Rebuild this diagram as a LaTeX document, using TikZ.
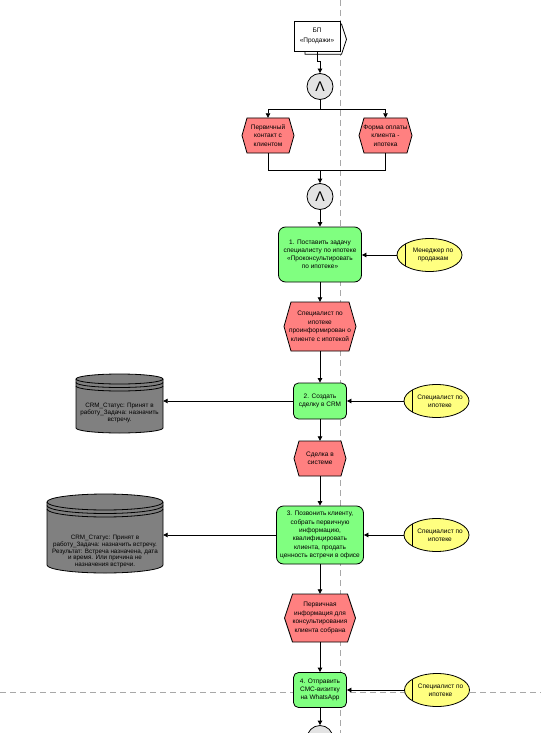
\documentclass[tikz,border=0pt]{standalone}
\usepackage{fontspec}
\setmainfont{Liberation Sans}
\usetikzlibrary{arrows.meta,shapes.geometric}
\definecolor{fgreen}{HTML}{80FF80}
\definecolor{ered}{HTML}{FF8080}
\definecolor{ryel}{HTML}{FFFF80}
\definecolor{andg}{HTML}{E3E3E3}
\definecolor{dbg}{HTML}{808080}
\definecolor{dashg}{HTML}{A8A8A8}
\newcommand\fs{\fontsize{6.5}{8}\selectfont}
\newcommand\fse{\fontsize{6.5}{8.5}\selectfont}
\newcommand\fsd{\fontsize{6.3}{6.9}\selectfont}
% event: name, cx, cy, w, h, inset, text
\newcommand\evt[7]{%
  \draw[evshape] ({#2-#4/2},#3) -- ({#2-#4/2+#6},{#3-#5/2}) -- ({#2+#4/2-#6},{#3-#5/2})
    -- ({#2+#4/2},#3) -- ({#2+#4/2-#6},{#3+#5/2}) -- ({#2-#4/2+#6},{#3+#5/2}) -- cycle;
  \node[evtxt, minimum width=#4pt, minimum height=#5pt] (#1) at (#2,#3) {#7};
}
% database: name, cx, top, w, h, ry, text y, text
\newcommand\db[8]{%
  \draw[dbshape] ({#2-#4/2},{#3+#6}) -- ({#2-#4/2},{#3+#5-#6})
    arc[start angle=180,end angle=360,x radius={#4/2*1pt},y radius={#6*1pt}]
    -- ({#2+#4/2},{#3+#6})
    arc[start angle=0,end angle=180,x radius={#4/2*1pt},y radius={#6*1pt}] -- cycle;
  \draw[dbline] ({#2-#4/2},{#3+#6}) arc[start angle=180,end angle=360,x radius={#4/2*1pt},y radius={#6*1pt}];
  \draw[dbline] ({#2-#4/2},{#3+#6+3.5}) arc[start angle=180,end angle=360,x radius={#4/2*1pt},y radius={#6*1pt}];
  \draw[dbline] ({#2-#4/2},{#3+#6+7}) arc[start angle=180,end angle=360,x radius={#4/2*1pt},y radius={#6*1pt}];
  \node[minimum width=#4pt, minimum height=#5pt, inner sep=0pt] (#1) at (#2,{#3+#5/2}) {};
  \node[dbtxt] (#1t) at (#2,#7) {#8};
}
% role: name, cx, cy, text
\newcommand\role[4]{%
  \node[roleshape] (#1) at (#2,#3) {};
  \begin{scope}
    \clip (#1.center) ellipse [x radius=32.5pt, y radius=16.5pt];
    \draw[line width=0.8pt] ({#2-24.5},{#3-20}) -- ({#2-24.5},{#3+20});
  \end{scope}
  \node[roletxt] (#1t) at ({#2+3.5},#3) {#4};
}
\begin{document}
\begin{tikzpicture}[x=1pt,y=-1pt,
  base/.style={font=\fs, align=center, inner sep=0pt, text=black},
  func/.style={base, draw, fill=fgreen, line width=0.8pt},
  evshape/.style={draw, fill=ered, line width=0.8pt},
  evtxt/.style={base, font=\fse},
  dbshape/.style={draw, fill=dbg, line width=0.8pt},
  dbline/.style={draw, line width=0.8pt},
  dbtxt/.style={base, font=\fsd},
  roleshape/.style={ellipse, draw, fill=ryel, line width=0.8pt, minimum width=65pt, minimum height=33pt, inner sep=0pt},
  roletxt/.style={base},
  andnode/.style={circle, draw, fill=andg, line width=0.8pt, minimum size=26pt, inner sep=0pt, font=\fontsize{14}{14}\selectfont},
  conn/.style={line width=0.8pt, -{Triangle[length=4.5pt,width=4.5pt]}},
  plain/.style={line width=0.8pt},
  dashline/.style={draw=dashg, line width=0.8pt, dash pattern=on 6pt off 4pt}
]
\useasboundingbox (0,0) rectangle (541,733);
\clip (0,0) rectangle (541,733);
\fill[white] (0,0) rectangle (541,733);
% lane separators
\draw[dashline] (340,0) -- (340,733);
\draw[dashline] (0,692) -- (541,692);

% process interface
\draw[plain, fill=white] (305,51) -- (305,54.3) -- (341.5,54.3) -- (346.5,39.3) -- (341.5,24) -- (340,24);
\node[base, draw, fill=white, line width=0.8pt, minimum width=46pt, minimum height=30pt,
  font=\fontsize{6.5}{10.5}\selectfont] (bp) at (317,36) {БП\\«Продажи»};

% AND connectors
\node[andnode] (a1) at (320,86.5) {Λ};
\node[andnode] (a2) at (320,196.5) {Λ};
\node[andnode] (a3) at (320,738.5) {};

% events
\evt{e1}{268}{135.5}{52}{35}{5}{Первичный\\контакт с\\клиентом}
\evt{e2}{385.5}{135.5}{53}{35}{5}{Форма оплаты\\клиента -\\ипотека}
\evt{e3}{320}{326.5}{72}{49}{7}{Специалист по\\ипотеке\\проинформирован о\\клиенте с ипотекой}
\evt{e4}{320}{458.5}{52}{35}{5}{Сделка в\\системе}
\evt{e5}{320}{618}{71}{48}{8}{Первичная\\информация для\\консультирования\\клиента собрана}

% functions
\node[func, rounded corners=7pt, minimum width=83pt, minimum height=55pt] (f1) at (320,254.5)
  {1. Поставить задачу\\специалисту по ипотеке\\«Проконсультировать\\по ипотеке»};
\node[func, rounded corners=5pt, minimum width=53pt, minimum height=36pt] (f2) at (320,401)
  {2. Создать\\сделку в CRM};
\node[func, rounded corners=7pt, minimum width=87pt, minimum height=58pt, font=\fontsize{6.5}{8.4}\selectfont] (f3) at (320,535)
  {3. Позвонить клиенту,\\собрать первичную\\информацию,\\квалифицировать\\клиента, продать\\ценность встречи в офисе};
\node[func, rounded corners=5pt, minimum width=53pt, minimum height=35pt] (f4) at (320,690)
  {4. Отправить\\СМС-визитку\\на WhatsApp};

% roles
\role{r1}{429.5}{255}{Менеджер по\\продажам}
\role{r2}{436.5}{401}{Специалист по\\ипотеке}
\role{r3}{436.5}{535}{Специалист по\\ипотеке}
\role{r4}{437}{690}{Специалист по\\ипотеке}

% databases
\db{d1}{119.5}{374}{87}{59}{5}{413}{CRM\_Статус: Принят в\\работу\_Задача: назначить\\встречу.}
\db{d2}{105}{494}{116}{79}{8}{551.5}{CRM\_Статус: Принят в\\работу\_Задача: назначить встречу.\\Результат: Встреча назначена, дата\\и время. Или причина не\\назначения встречи.}

% connectors
\draw[conn] (bp.south) -- ++(0,10) -| (a1.north);
\coordinate (j1) at (320,109);
\draw[plain] (a1.south) -- (j1);
\draw[conn] (j1) -| (e1.north);
\draw[conn] (j1) -| (e2.north);
\coordinate (j2) at (320,170);
\draw[plain] (e1.south) |- (j2);
\draw[plain] (e2.south) |- (j2);
\draw[conn] (j2) -- (a2.north);
\draw[conn] (a2.south) -- (f1.north);
\draw[conn] (r1.west) -- (r1.west -| f1.east);
\draw[conn] (f1.south) -- (e3.north);
\draw[conn] (e3.south) -- (f2.north);
\draw[conn] (r2.west) -- (r2.west -| f2.east);
\draw[conn] (f2.west) -- (f2.west -| d1.east);
\draw[conn] (f2.south) -- (e4.north);
\draw[conn] (e4.south) -- (f3.north);
\draw[conn] (r3.west) -- (r3.west -| f3.east);
\draw[conn] (f3.west) -- (f3.west -| d2.east);
\draw[conn] (f3.south) -- (e5.north);
\draw[conn] (e5.south) -- (f4.north);
\draw[conn] (r4.west) -- (r4.west -| f4.east);
\draw[conn] (f4.south) -- (a3.north);
\end{tikzpicture}
\end{document}
